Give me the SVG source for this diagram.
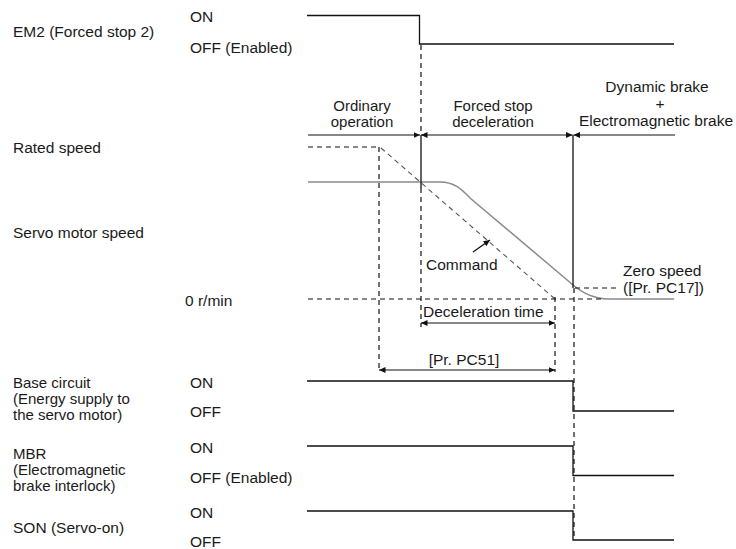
<svg xmlns="http://www.w3.org/2000/svg" width="736" height="549" viewBox="0 0 736 549">
<style>
text{font-family:"Liberation Sans",Arial,sans-serif;font-size:15.5px;fill:#1a1a1a}
.m{text-anchor:middle}
.t{font-size:15px}
.s{fill:none;stroke:#111;stroke-width:1.3}
.d{fill:none;stroke:#111;stroke-width:1.2;stroke-dasharray:5 4}
.g{fill:none;stroke:#8a8a8a;stroke-width:1.5}
.gd{fill:none;stroke:#555;stroke-width:1.1;stroke-dasharray:5 4}
.a{fill:none;stroke:#111;stroke-width:1.2}
</style>
<defs>
<marker id="ah" markerUnits="userSpaceOnUse" markerWidth="7" markerHeight="6" refX="6.5" refY="3" orient="auto-start-reverse">
<path d="M0,0 L6.5,3 L0,6 z" fill="#111"/>
</marker>
</defs>
<rect width="736" height="549" fill="#fff"/>

<g id="labels">
<text x="13" y="37">EM2 (Forced stop 2)</text>
<text x="190" y="22">ON</text>
<text x="190" y="52.5">OFF (Enabled)</text>
<text x="13" y="153">Rated speed</text>
<text x="13" y="238">Servo motor speed</text>
<text x="185" y="306">0 r/min</text>
<text class="t" x="13" y="388">Base circuit</text>
<text class="t" x="13" y="404">(Energy supply to</text>
<text class="t" x="13" y="420">the servo motor)</text>
<text x="190" y="388">ON</text>
<text x="190" y="417">OFF</text>
<text class="t" x="13" y="459">MBR</text>
<text class="t" x="13" y="474.5">(Electromagnetic</text>
<text class="t" x="13" y="490.5">brake interlock)</text>
<text x="190" y="452.5">ON</text>
<text x="190" y="482.5">OFF (Enabled)</text>
<text x="13" y="533">SON (Servo-on)</text>
<text x="190" y="518">ON</text>
<text x="190" y="546.5">OFF</text>
</g>

<g id="phases">
<text class="m t" x="362" y="111">Ordinary</text>
<text class="m t" x="362" y="127">operation</text>
<text class="m t" x="493" y="111">Forced stop</text>
<text class="m t" x="493" y="127">deceleration</text>
<text class="m" x="657" y="92">Dynamic brake</text>
<text class="m" x="660" y="109">+</text>
<text class="m" x="656" y="126">Electromagnetic brake</text>
</g>

<g id="signals">
<path id="em2" class="s" d="M307,15.5 H419.5 V44 H674"/>
<path id="base" class="s" d="M307,381 H573 V411 H674"/>
<path id="mbr" class="s" d="M307,446 H573 V475.5 H674"/>
<path id="son" class="s" d="M307,511 H573 V540 H674"/>
</g>

<g id="speed">
<path class="d" d="M308,147 H380"/>
<path class="gd" d="M381,148 L555,299"/>
<path class="g" d="M308,182 H440 C455,182 462,190 470,198 L566,279 C580,292 592,299 610,299 H674"/>
<path class="d" d="M308,299 H605"/>
<path class="d" d="M575,288 H618"/>
<text x="426" y="269.5">Command</text>
<text x="623" y="275.5">Zero speed</text>
<text x="623" y="293">([Pr. PC17])</text>
<text x="423" y="316.5">Deceleration time</text>
<text class="m" x="464" y="365">[Pr. PC51]</text>
</g>

<g id="connectors">
<path class="d" d="M421,45 V135"/>
<path class="s" d="M421,135 V188"/>
<path class="d" d="M421,188 V327"/>
<path class="s" d="M573,135 V288"/>
<path class="d" d="M574,288 V540"/>
<path class="d" d="M379,147 V372"/>
<path class="d" d="M555,297 V372"/>
<line class="a" x1="308" y1="135" x2="420" y2="135" marker-end="url(#ah)"/>
<line class="a" x1="421" y1="135" x2="572.5" y2="135" marker-start="url(#ah)" marker-end="url(#ah)"/>
<line class="a" x1="573.5" y1="135" x2="675" y2="135" marker-start="url(#ah)"/>
<line class="a" x1="473" y1="252" x2="490" y2="240" marker-end="url(#ah)"/>
<line class="a" x1="421" y1="323" x2="555" y2="323" marker-start="url(#ah)" marker-end="url(#ah)"/>
<line class="a" x1="379" y1="370" x2="555" y2="370" marker-start="url(#ah)" marker-end="url(#ah)"/>
</g>
</svg>
